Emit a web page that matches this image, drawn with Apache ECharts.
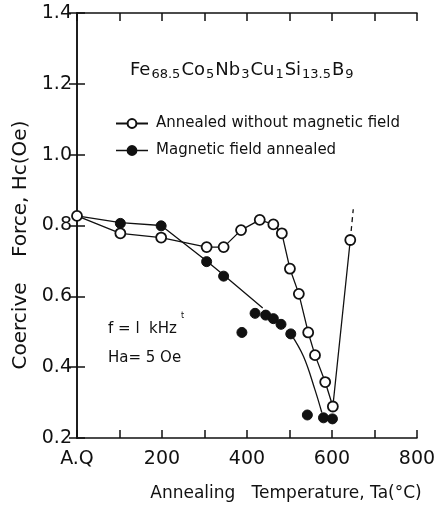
<!DOCTYPE html>
<html>
<head>
<meta charset="utf-8">
<script src="https://cdn.jsdelivr.net/npm/echarts@6/dist/echarts.min.js"></script>
<style>
  html, body { margin: 0; padding: 0; background: #fff; }
  #chart1 { width: 445px; height: 508px; }
</style>
</head>
<body>
<div id="chart1"></div>
<script>
// annealed without magnetic field (open circles)
const openT = [0, 102, 198, 305, 345, 386, 430, 462, 482, 501, 522, 544, 560, 584, 602, 643]
const openHc = [0.827, 0.778, 0.766, 0.739, 0.739, 0.787, 0.816, 0.803, 0.778, 0.678, 0.607, 0.498, 0.434, 0.358, 0.289, 0.759]
// dashed tail above the last open point
const dashT = [643, 650]
const dashHc = [0.759, 0.846]

// magnetic field annealed (filled circles)
const fieldT = [102, 198, 305, 345, 388, 419, 444, 462, 480, 503, 542, 580, 601]
const fieldHc = [0.806, 0.799, 0.698, 0.657, 0.498, 0.552, 0.547, 0.537, 0.521, 0.494, 0.265, 0.257, 0.254]
// hand-drawn guide curve through the filled points, in two pieces
const upperT = [0, 102, 198, 305, 345, 437]
const upperHc = [0.827, 0.808, 0.800, 0.700, 0.660, 0.567]
const lowerT = [503, 533, 560, 576]
const lowerHc = [0.494, 0.430, 0.336, 0.272]

const xTicks = [0, 200, 400, 600, 800]
const xTickText = ['A.Q', '200', '400', '600', '800']

const font = 'DejaVu Sans'
const ink = '#111'

function pairs(xs, ys) {
	return xs.map((x, i) => [x, ys[i]])
}

const chart = echarts.init(document.getElementById('chart1'), null, { renderer: 'canvas' })

const axisLine = { show: true, lineStyle: { color: ink, width: 1.5 } }
const axisTick = { show: true, inside: true, length: 8, lineStyle: { color: ink, width: 1.5 } }

const option = {
	animation: false,
	backgroundColor: '#fff',
	grid: { left: 77, right: 28, top: 13, bottom: 70 },
	xAxis: [{
		type: 'value', min: 0, max: 800, interval: 100,
		axisLine, axisTick, splitLine: { show: false },
		axisLabel: {
			margin: 12, color: ink, fontFamily: font, fontSize: 19,
			showMaxLabel: true, showMinLabel: true,
			formatter: v => {
				let i = xTicks.indexOf(v)
				return i >= 0 ? xTickText[i] : ''
			}
		}
	}, {
		type: 'value', min: 0, max: 800, interval: 100, position: 'top',
		axisLine, axisTick, axisLabel: { show: false }, splitLine: { show: false }
	}],
	yAxis: [{
		type: 'value', min: 0.2, max: 1.4, interval: 0.2,
		axisLine, axisTick, splitLine: { show: false },
		axisLabel: {
			margin: 5, color: ink, fontFamily: font, fontSize: 19,
			formatter: v => v.toFixed(1)
		}
	}, {
		type: 'value', min: 0.2, max: 1.4, interval: 0.2, position: 'right',
		axisLine, axisTick, axisLabel: { show: false }, splitLine: { show: false }
	}],
	legend: {
		orient: 'vertical', left: 110, top: 111, itemGap: 12,
		itemWidth: 32, itemHeight: 11,
		textStyle: { fontFamily: font, fontSize: 15, color: ink, padding: [0, 0, 0, 3] },
		data: [
			{ name: 'Annealed without magnetic field' },
			{ name: 'Magnetic field annealed', lineStyle: { color: ink, width: 1.5, opacity: 1 } }
		]
	},
	series: [{
		name: 'Annealed without magnetic field',
		type: 'line',
		data: pairs(openT, openHc),
		symbol: 'circle', symbolSize: 10,
		itemStyle: { color: '#fff', borderColor: ink, borderWidth: 1.8 },
		lineStyle: { color: ink, width: 1.3 },
		z: 3
	}, {
		name: 'tail',
		type: 'line',
		data: pairs(dashT, dashHc),
		symbol: 'none',
		lineStyle: { color: ink, width: 1.3, type: [5, 4] },
		z: 2
	}, {
		name: 'curve upper',
		type: 'line',
		data: pairs(upperT, upperHc),
		symbol: 'none',
		lineStyle: { color: ink, width: 1.3 },
		z: 2
	}, {
		name: 'curve lower',
		type: 'line',
		data: pairs(lowerT, lowerHc),
		symbol: 'none', smooth: 0.4,
		lineStyle: { color: ink, width: 1.3 },
		z: 2
	}, {
		name: 'Magnetic field annealed',
		type: 'line',
		data: pairs(fieldT, fieldHc),
		symbol: 'circle', symbolSize: 10,
		itemStyle: { color: ink, borderColor: ink, borderWidth: 1 },
		lineStyle: { color: ink, width: 0, opacity: 0 },
		z: 4
	}],
	graphic: [{
		type: 'text', left: 130, top: 61,
		style: {
			text: '{m|Fe}{s|68.5}{m|Co}{s|5}{m|Nb}{s|3}{m|Cu}{s|1}{m|Si}{s|13.5}{m|B}{s|9}',
			rich: {
				m: { fontFamily: font, fontSize: 18, fill: ink, lineHeight: 24, verticalAlign: 'bottom' },
				s: { fontFamily: font, fontSize: 13, fill: ink, lineHeight: 24, verticalAlign: 'bottom', padding: [0, 1, -2, 1] }
			}
		}
	}, {
		type: 'text', left: 108, top: 322,
		style: { text: 'f = l  kHz', fontFamily: font, fontSize: 15, fill: ink }
	}, {
		type: 'text', left: 181, top: 312,
		style: { text: 't', fontFamily: font, fontSize: 8, fill: ink }
	}, {
		type: 'text', left: 108, top: 351,
		style: { text: 'Ha= 5 Oe', fontFamily: font, fontSize: 15, fill: ink }
	}, {
		type: 'text', x: 21, y: 245, rotation: Math.PI / 2,
		style: { text: 'Coercive    Force, Hc(Oe)', fontFamily: font, fontSize: 20, fill: ink, align: 'center', verticalAlign: 'middle' }
	}, {
		type: 'text', x: 286, y: 494,
		style: { text: 'Annealing   Temperature, Ta(°C)', fontFamily: font, fontSize: 17, fill: ink, align: 'center', verticalAlign: 'middle' }
	}]
}

chart.setOption(option)
</script>
</body>
</html>
